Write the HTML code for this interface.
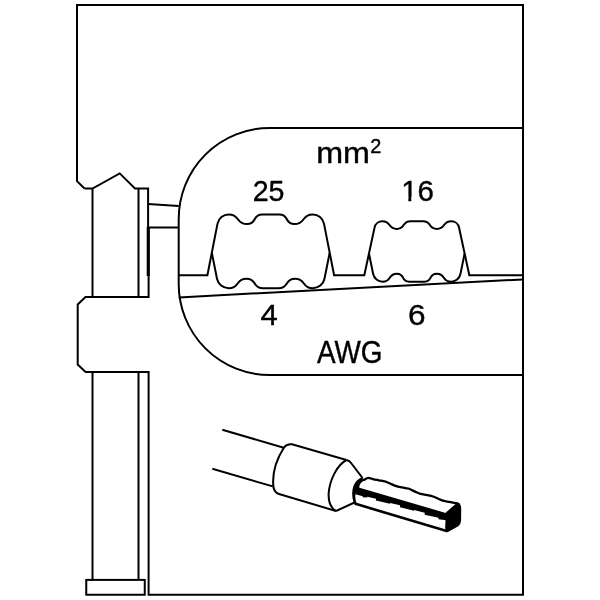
<!DOCTYPE html>
<html><head><meta charset="utf-8"><title>Crimp die</title>
<style>
html,body{margin:0;padding:0;background:#fff;width:600px;height:600px;overflow:hidden}
svg{display:block;will-change:transform}
text{font-family:"Liberation Sans",sans-serif;fill:#000}
</style></head><body>
<svg width="600" height="600" viewBox="0 0 600 600">
<defs><clipPath id="foot1" clipPathUnits="userSpaceOnUse"><path clip-rule="evenodd" d="M390,170 H450 V210 H390 Z M401,197 H408.35 V204 H401 Z M411.25,197 H418 V204 H411.3 Z"/></clipPath></defs>
<g fill="none" stroke="#000" stroke-width="2" stroke-linejoin="miter" stroke-linecap="butt">
<!-- outer frame -->
<path d="M148.6,275 V297 H85.5 L77.7,304.5 V364.5 L85.6,372 H148.6 V594.8 H523 V5 H77 V181.2 L84.5,188.5"/>
<!-- notch and upper column -->
<path d="M84.5,188.5 H92.5 L119.7,173.4 L135,188.5 H148.1 V228"/>
<path d="M148.3,227 V276" stroke-width="3.2"/>
<path d="M92.5,188.5 V297 M138.5,188.5 V297"/>
<!-- lower column -->
<path d="M92.5,372 V579.9 M138.5,372 V579.9"/>
<rect x="86.25" y="579.9" width="58.5" height="14.85"/>
<!-- bolt -->
<path d="M148,204.1 L178.7,205.9 M148,227.6 H178.7"/>
<!-- die outline -->
<path d="M523,128 H269.7 A91,91 0 0 0 178.7,219 V284 A91,91 0 0 0 269.7,375 H523"/>
<!-- slanted line -->
<path d="M178.7,297.4 L523,279.4"/>
<!-- baseline + upper cavity profiles -->
<path d="M178.7,275.2 L207.4,275.2 L217.52,223.64 A11.45,11.45 0 0 1 228.75,214.4 A11.06,11.06 0 0 1 237.9,219.25 A11.06,11.06 0 0 0 247.05,224.1 A8.38,8.38 0 0 0 254.65,219.25 A8.38,8.38 0 0 1 262.25,214.4 H279.25 A8.38,8.38 0 0 1 286.85,219.25 A8.38,8.38 0 0 0 294.45,224.1 A11.06,11.06 0 0 0 303.6,219.25 A11.06,11.06 0 0 1 312.75,214.4 A11.45,11.45 0 0 1 323.98,223.64 L334.1,275.2 L364.3,275.2 L374.57,227.45 A7.91,7.91 0 0 1 382.3,221.2 A8.75,8.75 0 0 1 389.55,225.05 A8.75,8.75 0 0 0 396.8,228.9 A8.02,8.02 0 0 0 403.65,225.05 A8.02,8.02 0 0 1 410.5,221.2 H423.1 A8.02,8.02 0 0 1 429.95,225.05 A8.02,8.02 0 0 0 436.8,228.9 A8.75,8.75 0 0 0 444.05,225.05 A8.75,8.75 0 0 1 451.3,221.2 A7.91,7.91 0 0 1 459.03,227.45 L469.3,275.2 H523"/>
<!-- lower profiles (crimp) -->
<path d="M211.81,252.7 L217.01,278.68 A11.97,11.97 0 0 0 228.75,288.3 A10.56,10.56 0 0 0 237.6,283.5 A10.56,10.56 0 0 1 246.45,278.7 A9.49,9.49 0 0 1 254.7,283.5 A9.49,9.49 0 0 0 262.95,288.3 H278.55 A9.49,9.49 0 0 0 286.8,283.5 A9.49,9.49 0 0 1 295.05,278.7 A10.56,10.56 0 0 1 303.9,283.5 A10.56,10.56 0 0 0 312.75,288.3 A11.97,11.97 0 0 0 324.49,278.68 L329.69,252.7"/>
<path d="M368.97,253.5 L373.17,274.01 A9.63,9.63 0 0 0 382.6,281.7 A8.39,8.39 0 0 0 389.75,277.7 A8.39,8.39 0 0 1 396.9,273.7 A6.65,6.65 0 0 1 403,277.7 A6.65,6.65 0 0 0 409.1,281.7 H424.5 A6.65,6.65 0 0 0 430.6,277.7 A6.65,6.65 0 0 1 436.7,273.7 A8.39,8.39 0 0 1 443.85,277.7 A8.39,8.39 0 0 0 451,281.7 A9.63,9.63 0 0 0 460.43,274.01 L464.63,253.5"/>
<!-- cable -->
<path d="M222.3,429.7 L283.7,447.8 M212.3,468.8 L272.8,486.4"/>
<!-- sleeve -->
<path d="M336,511 L279,494 Q274.6,492.6 273.5,487.5 C272,475 276,460 284,447.5 Q287,443.5 292,444.3 L346.5,460"/>
<path d="M346.5,460 C337,465 329.5,480 328.6,494 C328.4,502 331,508 336,511"/>
<path d="M346.5,460 Q349.5,460.5 351.5,463.5 L362.5,478 M336,511 L354.5,502.5"/>
</g>
<!-- tube -->
<path d="M359.7,480.3 C360.38,480.23 362.42,480.32 363.8,479.9 C365.18,479.48 366.47,477.93 368,477.8 C369.53,477.67 371.2,478.68 373,479.1 C374.8,479.52 376.72,479.88 378.8,480.3 C380.88,480.72 383.42,480.97 385.5,481.6 C387.58,482.23 389.5,483.33 391.3,484.1 C393.1,484.87 394.48,485.65 396.3,486.2 C398.12,486.75 400.25,487.02 402.2,487.4 C404.15,487.78 406.53,488.12 408,488.5 C409.47,488.88 409.73,489.13 411,489.7 C412.27,490.27 414.02,491.22 415.6,491.9 C417.18,492.58 418.57,493.27 420.5,493.8 C422.43,494.33 425.12,494.65 427.2,495.1 C429.28,495.55 431.07,495.85 433,496.5 C434.93,497.15 437.02,498.27 438.8,499 C440.58,499.73 441.92,500.42 443.7,500.9 C445.48,501.38 447.4,501.52 449.5,501.9 C451.6,502.28 454.68,502.82 456.3,503.2 C457.92,503.58 458.72,504.03 459.2,504.2" fill="none" stroke="#000" stroke-width="2.3"/>
<path d="M354.7,503.6 L447.5,531.2" fill="none" stroke="#000" stroke-width="2.6"/>
<path d="M358.7,487.4 L446.5,513.2 L446.5,520.2 L438.5,519.2 L438.5,517.8 L424.7,514.7 L424.7,512.8 L414,510.1 L414,510.7 L400,507.3 L400,505.3 L390,503.1 L390,503.8 L376,500.4 L376,498.7 L367.3,496.7 L367.3,497.6 L362.7,497.3 L362.7,496.2 L355.3,494.3 Z" fill="#000"/>
<path d="M362.2,477.2 C358.5,478.4 355.2,481.5 353.6,485.6 C351.8,490.2 351.6,496.5 353.4,501.8 L354.6,504.5 L356.6,503.4 C355.6,500.5 355.1,497.5 355.4,494.2 L359.2,488.2 C359.2,485.6 360.4,483.2 361.6,482.2 L363.6,480.6 Z" fill="#000"/>
<path d="M445.8,512.6 L456.4,503.3 Q458.2,502.3 459.6,503.6 Q461.4,505.6 461.2,510 L461.1,520.5 Q460.8,524.6 458.3,526.2 L448.4,531.8 Q446.3,532.6 445.6,530.4 L445.2,527.5 Z" fill="#000"/>
<!-- /tube -->
<!-- text -->
<g stroke="#000" stroke-width="0.4">
<text transform="translate(316.25,163.25) scale(1.075,1)" font-size="30.0">mm</text>
<text transform="translate(370.25,152.5) scale(1.022,1)" font-size="19.42">2</text>
<text transform="translate(252.65,200.8) scale(0.952,1)" font-size="30.0">25</text>
<g clip-path="url(#foot1)"><text transform="translate(401.2,200.7) scale(0.983,1)" font-size="30.0">16</text></g>
<text transform="translate(260.5,325.45) scale(1.02,1)" font-size="30.36">4</text>
<text transform="translate(408.0,325.4) scale(1.041,1)" font-size="30.35">6</text>
<text transform="translate(316.95,362.7) scale(0.899,1)" font-size="31.05">AWG</text>
</g>
</svg>
</body></html>
